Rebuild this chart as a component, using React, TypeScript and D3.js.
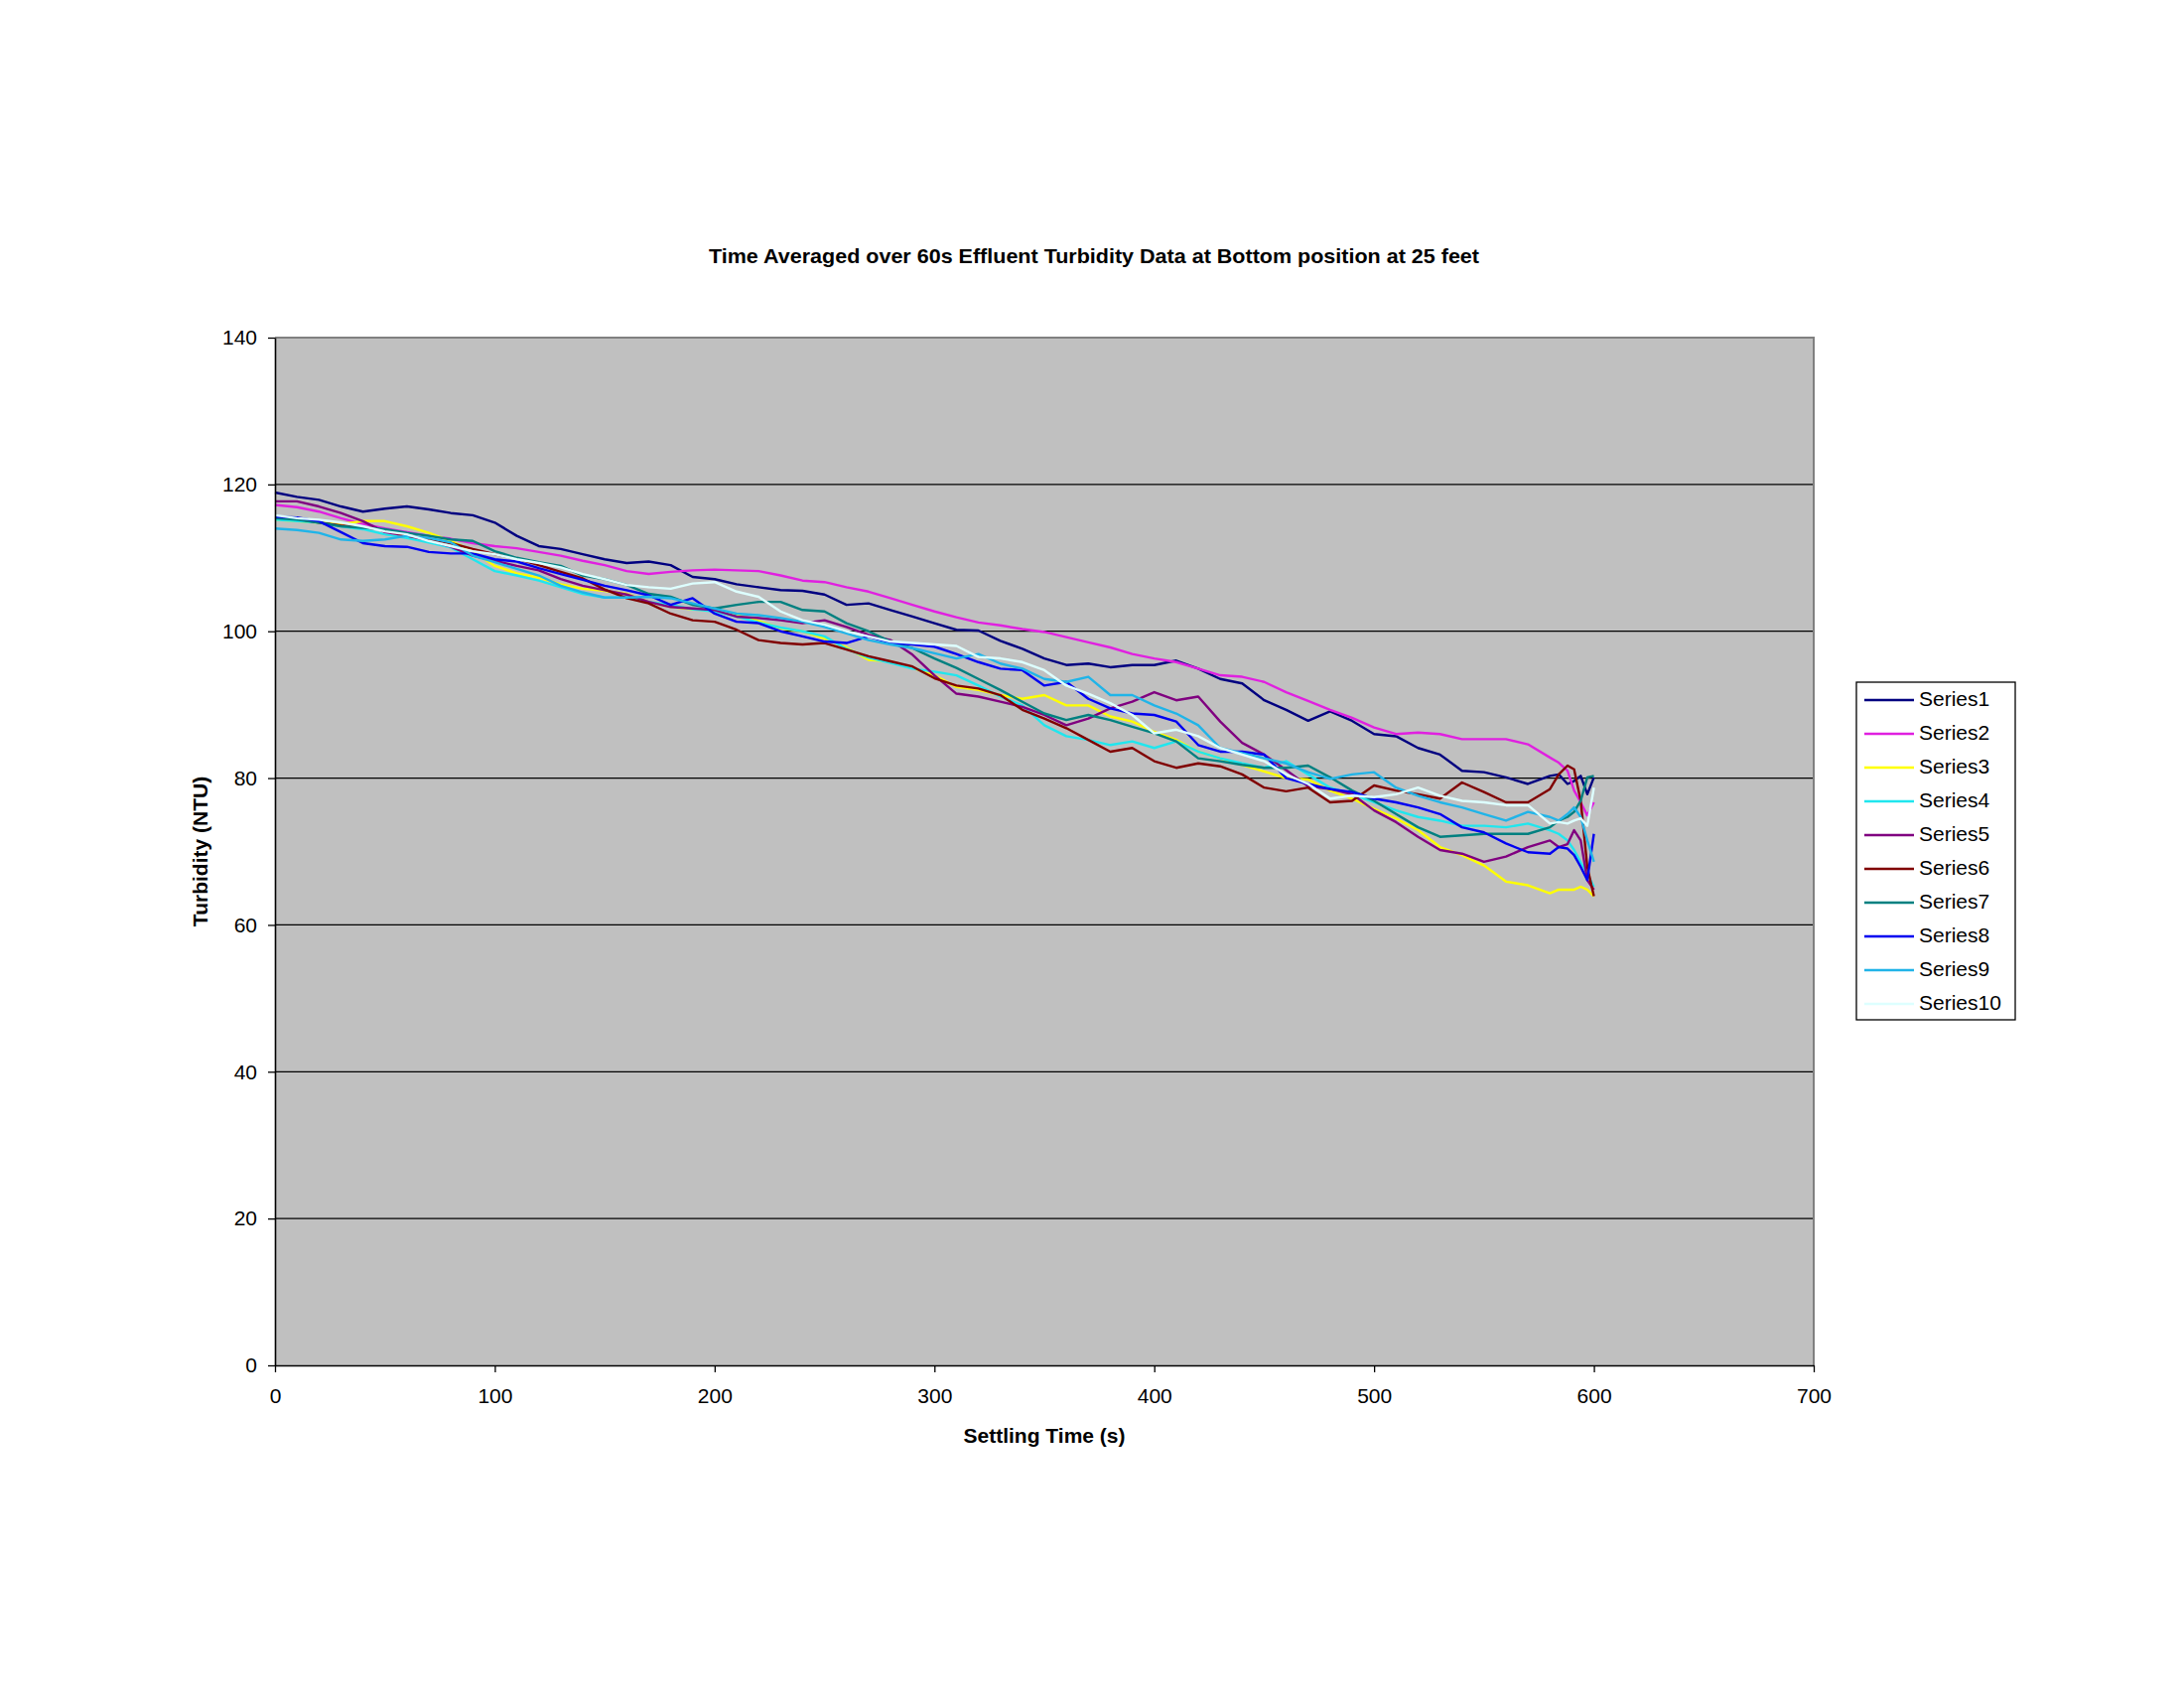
import React, { useEffect, useRef } from "react";
import * as d3 from "d3";

// settling time (s) for every sample
const times = [
  0, 10, 20, 30, 40, 50, 60, 70, 80, 90,
  100, 110, 120, 130, 140, 150, 160, 170, 180, 190,
  200, 210, 220, 230, 240, 250, 260, 270, 280, 290,
  300, 310, 320, 330, 340, 350, 360, 370, 380, 390,
  400, 410, 420, 430, 440, 450, 460, 470, 480, 490,
  500, 510, 520, 530, 540, 550, 560, 570, 580,
  584, 588, 591, 594, 597, 600,
];

const series1 = [
  118.9, 118.3, 117.9, 117.0, 116.3, 116.7, 117.0, 116.6, 116.1, 115.8,
  114.8, 113.0, 111.6, 111.2, 110.5, 109.8, 109.3, 109.5, 109.0, 107.4,
  107.1, 106.4, 106.0, 105.6, 105.5, 105.0, 103.6, 103.8, 102.9, 102.0,
  101.1, 100.2, 100.1, 98.7, 97.6, 96.3, 95.4, 95.6, 95.1, 95.4,
  95.4, 96.0, 94.9, 93.5, 92.9, 90.6, 89.3, 87.8, 89.1, 87.8,
  86.0, 85.7, 84.1, 83.2, 81.0, 80.8, 80.1, 79.2, 80.3,
  80.5, 79.2, 79.6, 80.3, 77.8, 80.1,
];
const series2 = [
  117.2, 116.9, 116.3, 115.4, 114.6, 114.0, 113.5, 113.0, 112.6, 112.0,
  111.6, 111.3, 110.8, 110.3, 109.6, 109.0, 108.2, 107.8, 108.1, 108.3,
  108.4, 108.3, 108.2, 107.6, 106.9, 106.7, 106.0, 105.4, 104.5, 103.6,
  102.7, 101.9, 101.2, 100.8, 100.3, 99.9, 99.2, 98.5, 97.8, 96.9,
  96.3, 95.8, 94.9, 94.0, 93.8, 93.1, 91.7, 90.5, 89.3, 88.2,
  86.9, 86.0, 86.2, 86.0, 85.3, 85.3, 85.3, 84.6, 82.8,
  82.1, 81.0, 78.3, 76.7, 74.9, 76.7,
];
const series3 = [
  115.2, 115.0, 114.8, 114.6, 115.0, 115.0, 114.3, 113.4, 112.3, 110.9,
  108.9, 107.9, 107.3, 106.4, 105.8, 105.5, 105.1, 104.0, 103.3, 103.0,
  102.8, 102.2, 101.4, 100.4, 100.0, 99.0, 97.8, 96.1, 95.9, 95.0,
  94.0, 92.4, 92.0, 91.3, 90.8, 91.3, 89.9, 89.9, 88.4, 87.7,
  86.3, 85.2, 83.6, 82.7, 81.8, 80.9, 80.0, 79.8, 78.3, 77.2,
  75.8, 74.5, 72.9, 70.6, 69.5, 68.1, 65.9, 65.4, 64.3,
  64.8, 64.8, 64.8, 65.2, 64.8, 63.9,
];
const series4 = [
  115.2, 115.0, 114.8, 114.3, 113.9, 113.2, 112.7, 112.1, 111.4, 109.8,
  108.2, 107.6, 106.9, 106.0, 105.1, 104.6, 104.6, 104.0, 103.6, 103.0,
  102.7, 102.0, 101.2, 100.5, 100.0, 99.3, 97.6, 96.4, 95.7, 94.9,
  94.5, 94.0, 92.6, 91.1, 89.9, 87.2, 85.7, 85.2, 84.5, 85.0,
  84.1, 85.0, 83.6, 82.7, 82.0, 81.4, 82.3, 80.5, 78.7, 77.8,
  76.7, 75.6, 74.7, 74.2, 73.5, 73.5, 73.3, 73.8, 72.9,
  72.4, 71.5, 70.2, 68.5, 67.0, 65.2,
];
const series5 = [
  117.7, 117.7, 117.0, 116.1, 115.0, 113.5, 113.0, 112.4, 111.5, 110.3,
  109.6, 108.9, 108.3, 107.1, 106.2, 105.6, 105.0, 104.0, 103.3, 103.1,
  102.9, 102.0, 101.8, 101.5, 101.1, 101.5, 100.6, 99.5, 98.8, 96.8,
  94.0, 91.5, 91.1, 90.4, 89.7, 88.6, 87.2, 88.1, 89.5, 90.4,
  91.7, 90.6, 91.1, 87.7, 84.8, 83.2, 81.1, 78.9, 78.5, 77.8,
  75.6, 74.0, 72.0, 70.2, 69.7, 68.6, 69.3, 70.6, 71.5,
  70.6, 71.0, 72.9, 71.5, 66.1, 64.8,
];
const series6 = [
  115.6, 115.3, 114.8, 114.4, 114.2, 113.8, 113.0, 112.6, 112.0, 111.2,
  110.5, 109.9, 109.0, 108.1, 107.2, 105.7, 104.5, 103.8, 102.4, 101.5,
  101.3, 100.2, 98.8, 98.4, 98.2, 98.4, 97.5, 96.6, 95.9, 95.2,
  93.6, 92.6, 92.2, 91.3, 89.3, 88.1, 86.8, 85.2, 83.6, 84.1,
  82.3, 81.4, 82.0, 81.6, 80.5, 78.7, 78.2, 78.7, 76.7, 76.9,
  79.0, 78.3, 77.8, 77.2, 79.4, 78.1, 76.7, 76.7, 78.5,
  80.5, 81.7, 81.2, 76.9, 67.9, 63.9,
];
const series7 = [
  115.4, 115.2, 114.8, 114.3, 114.1, 113.9, 113.4, 113.0, 112.5, 112.3,
  110.9, 110.0, 109.4, 108.9, 107.6, 107.1, 106.3, 105.1, 104.7, 103.6,
  103.1, 103.6, 104.0, 104.0, 102.9, 102.7, 101.1, 100.0, 98.6, 97.7,
  96.3, 95.0, 93.5, 92.0, 90.4, 88.8, 87.9, 88.6, 87.9, 87.0,
  86.1, 85.0, 82.7, 82.3, 81.8, 81.4, 81.4, 81.7, 80.1, 78.3,
  76.9, 75.1, 73.3, 72.0, 72.2, 72.4, 72.4, 72.4, 73.3,
  74.2, 74.7, 75.4, 76.9, 80.1, 80.3,
];
const series8 = [
  115.6, 115.5, 115.0, 113.5, 112.0, 111.6, 111.5, 110.8, 110.6, 110.6,
  109.8, 109.5, 108.6, 107.8, 107.0, 106.2, 105.6, 104.9, 103.6, 104.5,
  102.4, 101.3, 101.1, 100.0, 99.3, 98.6, 98.4, 99.3, 98.4, 98.2,
  97.9, 96.9, 95.8, 94.9, 94.7, 92.6, 93.1, 90.8, 89.5, 88.8,
  88.6, 87.7, 84.5, 83.6, 83.6, 83.2, 80.0, 79.2, 78.5, 78.1,
  77.2, 76.7, 76.0, 75.1, 73.3, 72.6, 71.1, 69.9, 69.7,
  70.6, 70.4, 69.5, 67.9, 66.1, 72.4,
];
const series9 = [
  114.0, 113.8, 113.4, 112.5, 112.3, 112.5, 113.0, 112.7, 112.1, 110.3,
  109.4, 108.5, 107.6, 106.2, 105.3, 104.6, 104.6, 104.7, 104.5, 103.8,
  103.1, 102.4, 102.2, 101.8, 101.3, 100.6, 99.7, 98.8, 98.2, 97.7,
  97.0, 96.3, 96.9, 95.6, 94.9, 93.5, 93.1, 93.8, 91.3, 91.3,
  89.9, 88.8, 87.2, 84.1, 83.4, 82.7, 82.0, 80.8, 79.9, 80.5,
  80.8, 78.7, 77.6, 76.7, 76.0, 75.1, 74.2, 75.4, 74.7,
  74.2, 75.1, 76.0, 74.7, 71.5, 68.6,
];
const series10 = [
  115.8, 115.4, 115.2, 114.8, 114.3, 113.6, 113.2, 112.3, 111.6, 110.9,
  110.5, 109.8, 109.3, 108.7, 107.8, 107.1, 106.3, 106.0, 105.8, 106.5,
  106.7, 105.4, 104.7, 102.7, 101.5, 100.9, 100.0, 99.3, 98.6, 98.4,
  98.2, 98.0, 96.5, 96.3, 95.8, 94.7, 92.6, 91.5, 90.2, 88.6,
  86.1, 86.6, 85.7, 84.1, 83.2, 82.3, 80.5, 79.2, 77.2, 77.6,
  77.4, 77.8, 78.7, 77.6, 76.9, 76.7, 76.3, 76.3, 73.8,
  74.0, 73.8, 74.2, 74.5, 73.5, 78.7,
];

const seriesNames = [
  "Series1", "Series2", "Series3", "Series4", "Series5",
  "Series6", "Series7", "Series8", "Series9", "Series10",
];
const seriesValues = [
  series1, series2, series3, series4, series5,
  series6, series7, series8, series9, series10,
];
const seriesColors = [
  "#000080", "#E020E0", "#FFFF00", "#20E6EE", "#800080",
  "#800000", "#008080", "#0000F0", "#20B4E8", "#DDFFFF",
];

const xTicks = [0, 100, 200, 300, 400, 500, 600, 700];
const yTicks = [0, 20, 40, 60, 80, 100, 120, 140];

const FONT = "'Liberation Sans', Arial, sans-serif";

export default function App() {
  const svgRef = useRef<SVGSVGElement | null>(null);

  useEffect(() => {
    if (!svgRef.current) return;
    const svg = d3.select(svgRef.current);
    svg.selectAll("*").remove();

    const plot = { left: 277, right: 1827, top: 340, bottom: 1375 };

    const x = d3.scaleLinear().domain([0, 700]).range([plot.left, plot.right]);
    const y = d3.scaleLinear().domain([0, 140]).range([plot.bottom, plot.top]);

    // plot area background
    svg.append("rect")
      .attr("x", plot.left)
      .attr("y", plot.top)
      .attr("width", plot.right - plot.left)
      .attr("height", plot.bottom - plot.top)
      .attr("fill", "#C0C0C0");

    // horizontal grid
    svg.append("g")
      .selectAll("line")
      .data(yTicks.filter((t) => t > 0 && t < 140))
      .join("line")
      .attr("x1", plot.left)
      .attr("x2", plot.right)
      .attr("y1", (d) => y(d))
      .attr("y2", (d) => y(d))
      .attr("stroke", "#000")
      .attr("stroke-width", 1.3);

    // gray frame top / right
    svg.append("path")
      .attr("d", `M${plot.left},${plot.top}H${plot.right}V${plot.bottom}`)
      .attr("fill", "none")
      .attr("stroke", "#808080")
      .attr("stroke-width", 2);

    // series lines
    const line = d3
      .line<number>()
      .x((_, i) => x(times[i]))
      .y((d) => y(d));

    seriesValues.forEach((vals, i) => {
      svg.append("path")
        .datum(vals)
        .attr("d", line)
        .attr("fill", "none")
        .attr("stroke", seriesColors[i])
        .attr("stroke-width", 2.4)
        .attr("stroke-linejoin", "round");
    });

    // axes
    const yAxis = svg.append("g")
      .attr("transform", `translate(${plot.left},0)`)
      .call(d3.axisLeft(y).tickValues(yTicks).tickSize(7).tickSizeOuter(0).tickPadding(11));
    const xAxis = svg.append("g")
      .attr("transform", `translate(0,${plot.bottom})`)
      .call(d3.axisBottom(x).tickValues(xTicks).tickSize(7).tickSizeOuter(0).tickPadding(16));

    [yAxis, xAxis].forEach((ax) => {
      ax.select(".domain").attr("stroke", "#000").attr("stroke-width", 1.6);
      ax.selectAll(".tick line").attr("stroke", "#000").attr("stroke-width", 1.3);
      ax.selectAll(".tick text")
        .attr("fill", "#000")
        .style("font-family", FONT)
        .style("font-size", "21px");
    });

    // titles
    svg.append("text")
      .attr("x", 1102)
      .attr("y", 265)
      .attr("text-anchor", "middle")
      .attr("textLength", 776)
      .attr("lengthAdjust", "spacingAndGlyphs")
      .style("font-family", FONT)
      .style("font-size", "21px")
      .style("font-weight", "bold")
      .text("Time Averaged over 60s Effluent Turbidity Data at Bottom position at 25 feet");

    svg.append("text")
      .attr("x", (plot.left + plot.right) / 2)
      .attr("y", 1453)
      .attr("text-anchor", "middle")
      .style("font-family", FONT)
      .style("font-size", "21px")
      .style("font-weight", "bold")
      .text("Settling Time (s)");

    svg.append("text")
      .attr("transform", `translate(209,${(plot.top + plot.bottom) / 2}) rotate(-90)`)
      .attr("text-anchor", "middle")
      .style("font-family", FONT)
      .style("font-size", "21px")
      .style("font-weight", "bold")
      .text("Turbidity (NTU)");

    // legend
    const legend = svg.append("g");
    legend.append("rect")
      .attr("x", 1870)
      .attr("y", 687)
      .attr("width", 160)
      .attr("height", 340)
      .attr("fill", "#fff")
      .attr("stroke", "#000")
      .attr("stroke-width", 1.3);

    const rows = legend.selectAll("g.row")
      .data(seriesNames)
      .join("g")
      .attr("class", "row")
      .attr("transform", (_, i) => `translate(0,${705 + i * 34})`);

    rows.append("line")
      .attr("x1", 1878)
      .attr("x2", 1928)
      .attr("stroke", (_, i) => seriesColors[i])
      .attr("stroke-width", 2.4);

    rows.append("text")
      .attr("x", 1933)
      .attr("dy", "0.3em")
      .style("font-family", FONT)
      .style("font-size", "21px")
      .text((d) => d);
  }, []);

  return (
    <div style={{ position: "absolute", left: 0, top: 0, width: 2200, height: 1712, background: "#fff" }}>
      <svg ref={svgRef} width={2200} height={1712} style={{ display: "block" }} />
    </div>
  );
}
